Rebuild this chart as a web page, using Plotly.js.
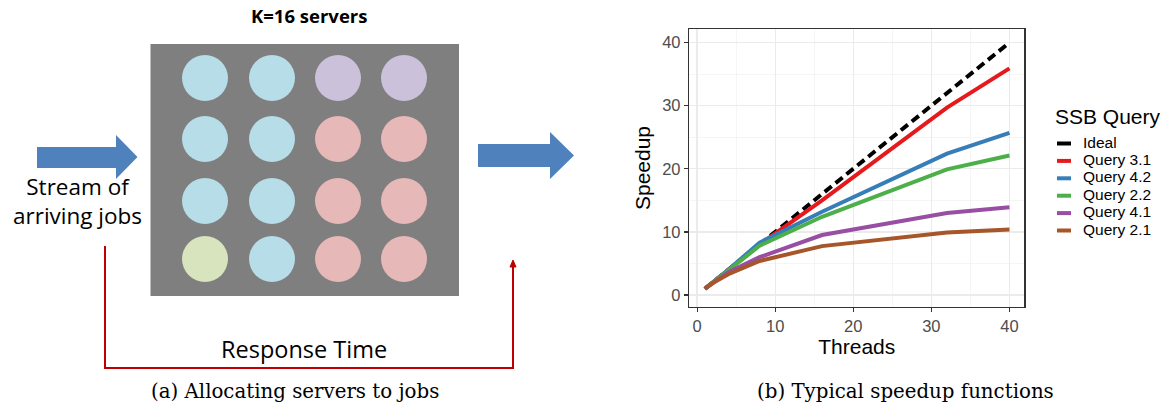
<!DOCTYPE html>
<html><head><meta charset="utf-8">
<script src="https://cdn.plot.ly/plotly-3.0.1.min.js"></script>
<style>html,body{margin:0;padding:0;background:#fff}#chart{width:1169px;height:407px}</style>
</head><body><div id="chart"></div>
<script>
// ---- chart data ----
const threads = [1, 2, 4, 8, 16, 32, 40];
const seriesNames = ["Ideal", "Query 3.1", "Query 4.2", "Query 2.2", "Query 4.1", "Query 2.1"];
const ideal   = [1, 2, 4, 8, 16, 32, 40];
const q31     = [1, 2, 4, 8.0, 15.0, 29.7, 35.9];
const q42     = [1, 2, 4, 8.3, 13.2, 22.4, 25.7];
const q22     = [1, 2, 3.9, 7.8, 12.4, 19.9, 22.1];
const q41     = [1, 1.9, 3.6, 6.0, 9.5, 13.0, 13.9];
const q21     = [1, 1.9, 3.3, 5.4, 7.75, 9.9, 10.4];
const seriesColors = ["#000000", "#e41a1c", "#377eb8", "#4daf4a", "#984ea3", "#a65628"];
const xTicks = [0, 10, 20, 30, 40];
const yTicks = [0, 10, 20, 30, 40];
const legendTitle = "SSB Query";

// ---- diagram data (left panel) ----
const serverGrid = [
  ["blue", "blue", "purple", "purple"],
  ["blue", "blue", "pink", "pink"],
  ["blue", "blue", "pink", "pink"],
  ["green", "blue", "pink", "pink"]
];
const serverFill = {blue: "#b7dde8", purple: "#ccc1da", pink: "#e6b9b8", green: "#d7e4bd"};

const W = 1169, H = 407;
const px = x => x / W;
const py = y => 1 - y / H;
const sans = "Liberation Sans, Arial, sans-serif";

const allY = [ideal, q31, q42, q22, q41, q21];
const traces = allY.map((ys, i) => ({
  type: "scatter", mode: "lines", x: threads, y: ys, name: seriesNames[i],
  line: {color: seriesColors[i], width: 4, dash: i === 0 ? "9px,5px" : "solid"},
  showlegend: false, hoverinfo: "x+y+name"
}));

// shapes for the diagram
const shapes = [];
shapes.push({type: "rect", xref: "paper", yref: "paper", x0: px(150.5), x1: px(459), y0: py(296), y1: py(44),
  fillcolor: "#7f7f7f", line: {width: 0}, layer: "below"});
const colX = [205, 272, 338, 404];
const rowY = [78, 139, 201, 259];
const r = 23;
serverGrid.forEach((row, ri) => row.forEach((c, ci) => {
  shapes.push({type: "circle", xref: "paper", yref: "paper",
    x0: px(colX[ci] - r), x1: px(colX[ci] + r), y0: py(rowY[ri] + r), y1: py(rowY[ri] - r),
    fillcolor: serverFill[c], line: {width: 0}});
}));
function arrowPath(x0, yb0, yb1, xh, yh0, yh1, xt) {
  const ym = (yh0 + yh1) / 2;
  const pts = [[x0, yb0], [xh, yb0], [xh, yh0], [xt, ym], [xh, yh1], [xh, yb1], [x0, yb1]];
  return "M" + pts.map(p => px(p[0]) + "," + py(p[1])).join(" L") + " Z";
}
shapes.push({type: "path", xref: "paper", yref: "paper", path: arrowPath(37, 147, 168, 116, 135, 179, 137.5),
  fillcolor: "#4f81bd", line: {width: 0}});
shapes.push({type: "path", xref: "paper", yref: "paper", path: arrowPath(478, 144, 167, 550, 132, 179, 574),
  fillcolor: "#4f81bd", line: {width: 0}});
// red response-time bracket
shapes.push({type: "path", xref: "paper", yref: "paper",
  path: "M" + px(105) + "," + py(246) + " L" + px(105) + "," + py(368) + " L" + px(513) + "," + py(368) + " L" + px(513) + "," + py(265),
  line: {color: "#c00000", width: 2}});
shapes.push({type: "path", xref: "paper", yref: "paper",
  path: "M" + px(510) + "," + py(267) + " L" + px(513) + "," + py(260) + " L" + px(516) + "," + py(267) + " Z",
  fillcolor: "#c00000", line: {color: "#c00000", width: 1}});

const diagFont = "Open Sans, Noto Sans, sans-serif";
const serif = "DejaVu Serif, Liberation Serif, serif";
const annotations = [
  {text: "<b>K=16 servers</b>", x: px(309), y: py(16), font: {family: diagFont, size: 18.5, color: "#000"}},
  {text: "Stream of<br>arriving jobs", x: px(77), y: py(201), font: {family: diagFont, size: 22.5, color: "#000"}},
  {text: "Response Time", x: px(304), y: py(349), font: {family: diagFont, size: 23.5, color: "#000"}},
  {text: "(a) Allocating servers to jobs", x: px(295), y: py(391), font: {family: serif, size: 19.8, color: "#000"}},
  {text: "(b) Typical speedup functions", x: px(905), y: py(391), font: {family: serif, size: 19.8, color: "#000"}}
].map(a => Object.assign({xref: "paper", yref: "paper", showarrow: false, xanchor: "center", yanchor: "middle", borderpad: 0}, a));

// manual ggplot-style legend
annotations.push({xref: "paper", yref: "paper", showarrow: false, xanchor: "left", yanchor: "middle", borderpad: 0,
  x: px(1054), y: py(116), text: legendTitle, font: {family: sans, size: 21, color: "#000"}});
seriesNames.forEach((n, i) => {
  const yc = 142 + i * 17.4;
  annotations.push({xref: "paper", yref: "paper", showarrow: false, xanchor: "left", yanchor: "middle", borderpad: 0,
    x: px(1082), y: py(yc), text: n, font: {family: sans, size: 15.5, color: "#000"}});
  shapes.push({type: "line", xref: "paper", yref: "paper", x0: px(1057), x1: px(1071),
    y0: py(yc + 1.5), y1: py(yc + 1.5), line: {color: seriesColors[i], width: 4}});
});

const axisCommon = {
  showline: true, mirror: true, linecolor: "#333333", linewidth: 1.5,
  ticks: "outside", ticklen: 4, tickcolor: "#333333", tickwidth: 1.2,
  gridcolor: "#ebebeb", gridwidth: 1.3,
  minor: {showgrid: true, gridcolor: "#f2f2f2", gridwidth: 0.8, dtick: 5},
  zeroline: false, tickfont: {family: sans, size: 16.5, color: "#4d4d4d"},
  tickmode: "array"
};

const layout = {
  width: W, height: H, margin: {l: 0, r: 0, t: 0, b: 0},
  paper_bgcolor: "#fff", plot_bgcolor: "#fff",
  showlegend: false,
  xaxis: Object.assign({}, axisCommon, {domain: [px(689.3), px(1024.3)], range: [-1.0, 41.9],
    tickvals: xTicks, ticktext: xTicks.map(String),
    title: {text: "Threads", font: {family: sans, size: 21, color: "#000"}, standoff: 3}}),
  yaxis: Object.assign({}, axisCommon, {domain: [1 - 306.7 / H, 1 - 29.3 / H], range: [-1.85, 42.1],
    tickvals: yTicks, ticktext: yTicks.map(String),
    title: {text: "Speedup", font: {family: sans, size: 21, color: "#000"}, standoff: 6}}),
  shapes: shapes,
  annotations: annotations
};

Plotly.newPlot("chart", traces, layout, {displayModeBar: false, staticPlot: true});
</script></body></html>
